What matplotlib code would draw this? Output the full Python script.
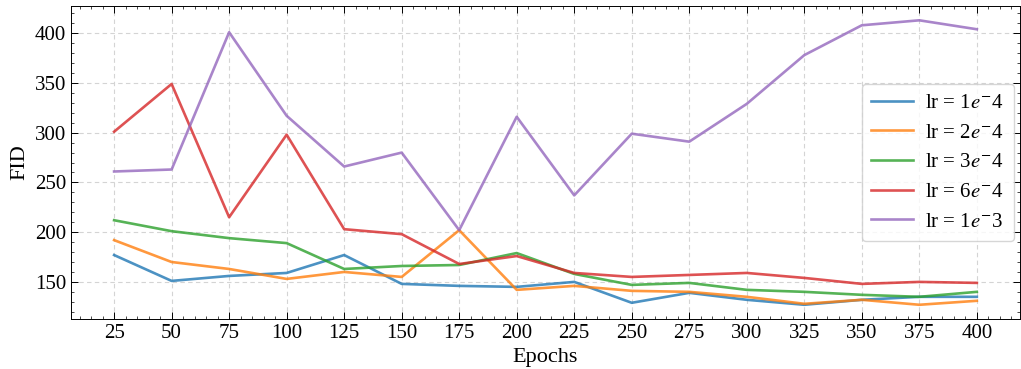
import matplotlib
matplotlib.use("Agg")
import matplotlib.pyplot as plt
from matplotlib.ticker import MultipleLocator, AutoMinorLocator

# FID per training epoch for different learning rates
epochs = [25, 50, 75, 100, 125, 150, 175, 200, 225, 250, 275, 300, 325, 350, 375, 400]

fid_lr_1e4 = [177, 151, 156, 159, 177, 148, 146, 145, 150, 129, 139, 132, 127, 132, 135, 135]
fid_lr_2e4 = [192, 170, 163, 153, 160, 155, 202, 142, 146, 141, 140, 135, 128, 132, 127, 131]
fid_lr_3e4 = [212, 201, 194, 189, 163, 166, 167, 179, 158, 147, 149, 142, 140, 137, 135, 140]
fid_lr_6e4 = [301, 349, 215, 298, 203, 198, 168, 176, 159, 155, 157, 159, 154, 148, 150, 149]
fid_lr_1e3 = [261, 263, 401, 317, 266, 280, 202, 316, 237, 299, 291, 329, 378, 408, 413, 404]

series = [
    (fid_lr_1e4, r"lr = 1$e^{-}$4", "#1f77b4"),
    (fid_lr_2e4, r"lr = 2$e^{-}$4", "#ff7f0e"),
    (fid_lr_3e4, r"lr = 3$e^{-}$4", "#2ca02c"),
    (fid_lr_6e4, r"lr = 6$e^{-}$4", "#d62728"),
    (fid_lr_1e3, r"lr = 1$e^{-}$3", "#9467bd"),
]

plt.rcParams["font.family"] = ["Liberation Serif", "DejaVu Serif"]
plt.rcParams["mathtext.fontset"] = "stix"
plt.rcParams["font.size"] = 15

fig = plt.figure(figsize=(10.21, 3.69), dpi=100)
ax = fig.add_axes([0.0695, 0.1355, 0.9295, 0.848])

for values, label, color in series:
    ax.plot(epochs, values, color=color, alpha=0.8, linewidth=1.9, label=label)

ax.set_xticks(epochs)
ax.xaxis.set_minor_locator(AutoMinorLocator(5))
ax.yaxis.set_major_locator(MultipleLocator(50))
ax.yaxis.set_minor_locator(AutoMinorLocator(5))
ax.tick_params(which="both", direction="in", top=True, right=True)
ax.tick_params(which="major", length=5, width=0.7, labelsize=15)
ax.tick_params(which="minor", length=2.5, width=0.5)
for spine in ax.spines.values():
    spine.set_linewidth(0.7)

ax.grid(True, which="major", linestyle=(0, (4, 3)), color="#d4d4d4", linewidth=0.8)
ax.set_axisbelow(True)

ax.set_xlabel("Epochs", fontsize=16)
ax.set_ylabel("FID", fontsize=16)

ax.legend(loc="center right", fontsize=15, frameon=True, fancybox=True,
          framealpha=0.8, edgecolor="#cccccc", handlelength=2.0,
          handletextpad=0.6, borderpad=0.45, labelspacing=0.48,
          borderaxespad=0.3)

fig.savefig("out.png", dpi=100)
